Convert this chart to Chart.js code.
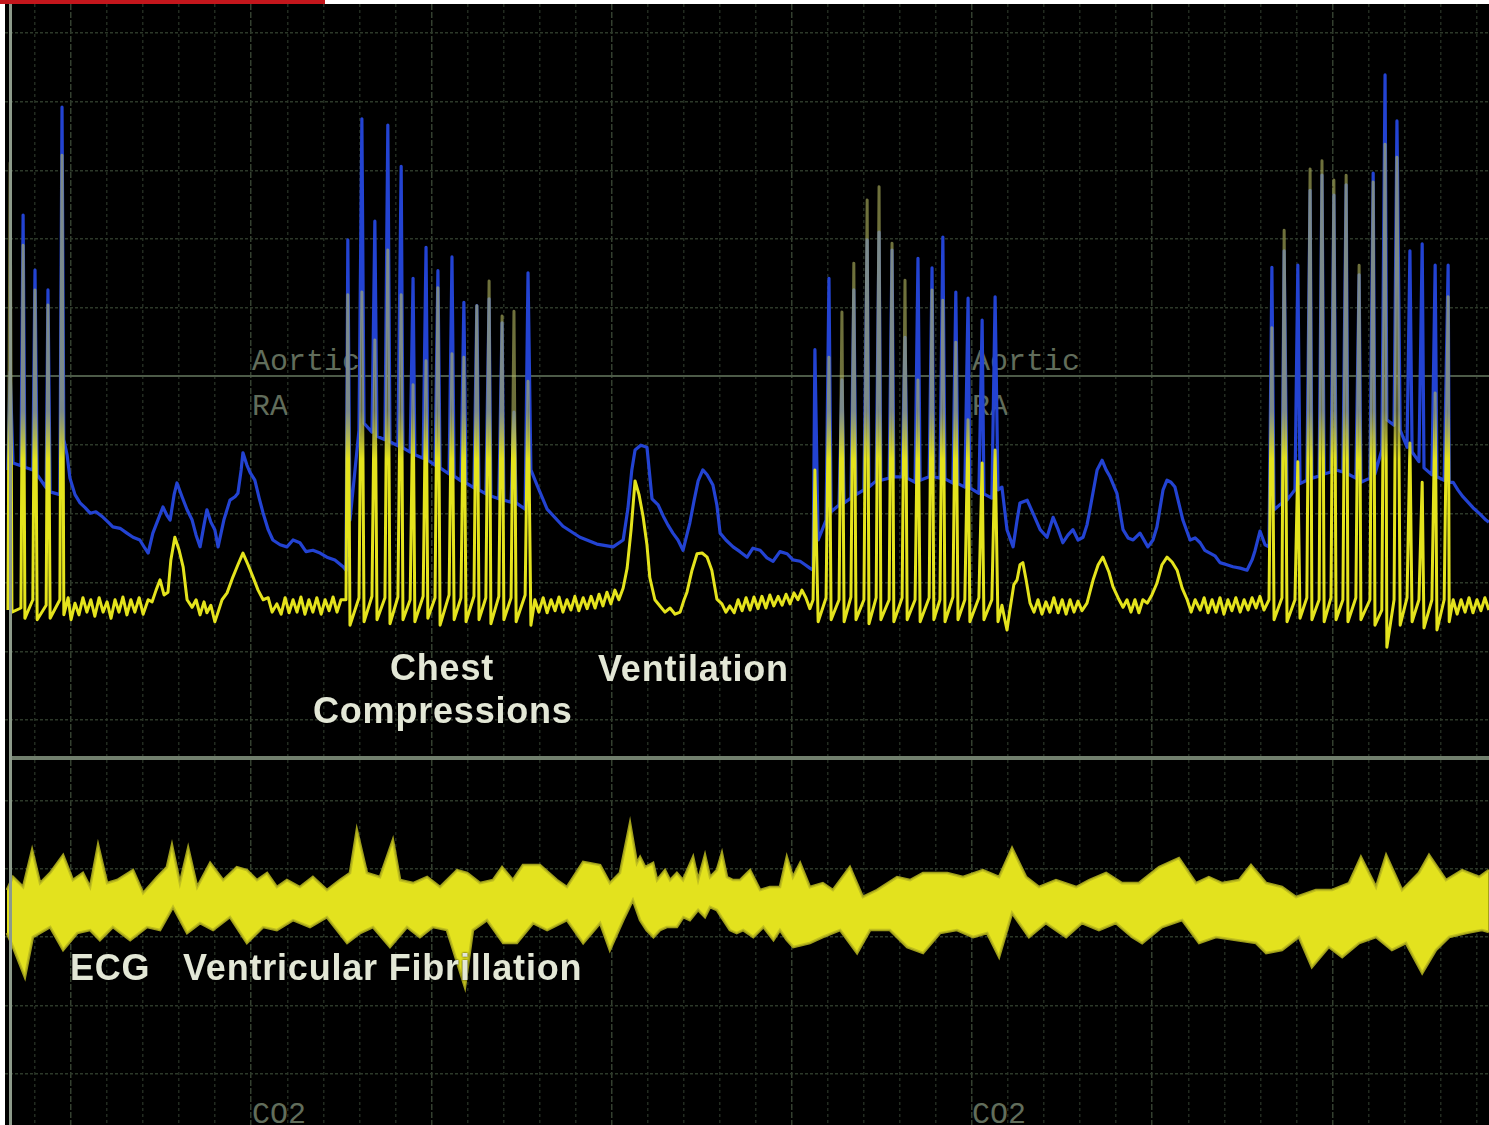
<!DOCTYPE html>
<html>
<head>
<meta charset="utf-8">
<title>CPR recording: aortic and RA pressure, ECG</title>
<script src="https://cdn.jsdelivr.net/npm/chart.js"></script>
<style>
  body { margin: 0; background: #fff; }
  #stage { position: relative; width: 1489px; height: 1125px; background: #000; overflow: hidden; }
  #stage canvas { position: absolute; left: 0; z-index: 2; }
  .edge { position: absolute; z-index: 3; }
  .mono { position: absolute; z-index: 1; font-family: "Liberation Mono", "DejaVu Sans Mono", monospace;
          font-size: 30px; line-height: 30px; color: #616d5b; white-space: pre; }
  .note { position: absolute; z-index: 4; font-family: "Liberation Sans", Arial, sans-serif; font-weight: bold;
          font-size: 36px; line-height: 36px; letter-spacing: 0.8px; color: #e3e7d6; white-space: pre;
          text-shadow: 0 0 2px #000; }
</style>
</head>
<body>
<div id="stage">
  <div class="edge" style="left:0;top:0;width:325px;height:4px;background:#c3161c"></div>
  <div class="edge" style="left:325px;top:0;width:1164px;height:4px;background:#fff"></div>
  <div class="edge" style="left:0;top:4px;width:5px;height:1121px;background:#fff"></div>
  <div class="edge" style="left:9px;top:4px;width:3px;height:1121px;background:#8d9b8b"></div>
  <div class="edge" style="left:12px;top:756px;width:1477px;height:4px;background:#717f6d"></div>

  <div class="mono" style="left:252px;top:347px">Aortic</div>
  <div class="mono" style="left:252px;top:392px">RA</div>
  <div class="mono" style="left:972px;top:347px">Aortic</div>
  <div class="mono" style="left:972px;top:392px">RA</div>
  <div class="mono" style="left:252px;top:1100px">CO2</div>
  <div class="mono" style="left:972px;top:1100px">CO2</div>

  <canvas id="pressureChart" width="1489" height="753" style="top:4px"></canvas>
  <canvas id="ecgChart" width="1489" height="365" style="top:760px"></canvas>

  <div class="note" style="left:390px;top:650px">Chest</div>
  <div class="note" style="left:313px;top:693px">Compressions</div>
  <div class="note" style="left:598px;top:651px">Ventilation</div>
  <div class="note" style="left:70px;top:950px">ECG</div>
  <div class="note" style="left:183px;top:950px">Ventricular Fibrillation</div>
</div>

<script>
// time in s (1 grid = 1 s), pressure in mmHg (1 grid = 10), ECG in mV (1 grid = 0.5)
const T_MIN = -0.971, T_MAX = 40.344;
const P_MIN = -5.39, P_MAX = 104.22;
const V_MIN = -1.376, V_MAX = 1.296;

// aortic pressure [t, mmHg]
const aortic = [
  [-0.75,36.4],[-0.69,50.7],[-0.61,37.4],[-0.39,37.0],[-0.33,73.5],[-0.28,36.8],[-0.06,36.4],[0,65.5],[0.06,35.7],
  [0.31,33.8],[0.36,62.6],[0.42,33.2],[0.69,32.8],[0.75,89.2],[0.80,40.8],
  [0.89,38.6],[0.97,35.2],[1.11,32.8],[1.25,31.6],[1.39,30.9],[1.53,30.1],[1.69,30.3],[1.89,29.5],[2.03,28.8],
  [2.16,28.1],[2.36,27.9],[2.55,27.2],[2.72,26.6],[2.91,26.2],[3.05,25.0],[3.14,24.3],[3.27,27.2],[3.41,29.1],
  [3.55,31.0],[3.66,29.8],[3.75,29.1],[3.86,32.8],[3.94,34.5],[4.08,32.5],[4.22,30.6],[4.36,29.1],[4.47,26.9],
  [4.58,25.2],[4.69,28.4],[4.77,30.6],[4.88,28.8],[4.99,27.7],[5.08,25.2],[5.24,29.1],[5.41,32.0],[5.55,32.5],
  [5.63,33.0],[5.72,36.4],[5.77,38.9],[5.88,37.1],[5.97,36.0],[6.10,34.9],[6.22,32.3],[6.33,30.1],[6.47,27.7],
  [6.60,26.2],[6.80,25.5],[6.99,25.2],[7.16,26.2],[7.35,25.8],[7.52,24.5],[7.71,24.7],[7.91,24.3],[8.10,23.7],
  [8.32,23.3],[8.55,22.3],[8.63,21.8],
  [8.68,69.9],[8.74,29.1],[8.99,42.2],[9.07,87.5],[9.13,43.2],[9.35,41.9],[9.43,72.6],[9.49,41.3],
  [9.71,40.8],[9.79,86.6],[9.85,40.5],[10.07,39.9],[10.16,80.6],[10.21,39.6],[10.41,39.0],[10.49,64.3],[10.54,38.6],
  [10.77,38.1],[10.85,68.8],[10.90,37.8],[11.10,37.1],[11.18,65.4],[11.24,36.7],[11.49,35.8],[11.57,67.4],[11.63,35.5],
  [11.82,34.8],[11.90,60.8],[11.96,34.5],[12.18,33.8],[12.26,60.3],[12.32,33.5],[12.51,32.9],[12.60,61.3],[12.65,32.6],
  [12.87,32.2],[12.96,57.8],[13.01,32.0],[13.21,31.7],[13.29,44.8],[13.35,31.6],[13.60,30.7],[13.68,65.1],[13.76,36.4],
  [13.93,34.2],[14.21,30.7],[14.65,28.2],[15.12,26.6],[15.59,25.6],[16.04,25.2],[16.32,26.2],[16.45,30.7],[16.56,36.4],
  [16.65,39.3],[16.81,40.0],[16.98,39.7],[17.12,32.2],[17.29,31.3],[17.43,29.7],[17.56,28.4],[17.70,27.2],[17.84,26.2],
  [17.98,24.7],[18.17,28.7],[18.29,32.0],[18.40,34.8],[18.53,36.4],[18.65,35.7],[18.81,34.2],[18.92,31.3],[19.01,27.2],
  [19.17,26.2],[19.37,25.2],[19.56,24.5],[19.76,23.7],[19.92,25.0],[20.12,24.7],[20.31,23.6],[20.48,23.1],[20.67,24.5],
  [20.87,24.2],[21.03,23.3],[21.23,23.1],[21.37,22.6],[21.50,22.1],[21.59,21.8],
  [21.64,53.9],[21.73,26.2],[21.95,29.1],[22.03,64.3],[22.09,30.3],[22.31,31.3],[22.39,49.5],[22.45,31.6],
  [22.64,32.3],[22.72,62.6],[22.78,32.8],[23.00,33.5],[23.09,69.9],[23.14,33.9],[23.34,34.8],[23.42,71.0],[23.47,34.9],
  [23.70,35.2],[23.78,68.4],[23.83,35.4],[24.06,35.4],[24.14,55.7],[24.20,35.2],[24.42,34.6],[24.50,67.2],[24.56,34.9],
  [24.81,35.4],[24.89,65.8],[24.94,35.4],[25.11,35.2],[25.19,70.3],[25.25,35.1],[25.47,34.5],[25.55,62.3],[25.61,34.4],
  [25.80,33.9],[25.89,61.4],[25.94,33.8],[26.19,33.0],[26.28,58.2],[26.33,32.9],[26.55,32.3],[26.64,61.6],[26.72,33.5],
  [26.83,33.9],[26.97,27.7],[27.14,25.2],[27.25,29.1],[27.33,31.6],[27.53,32.0],[27.69,30.1],[27.89,27.7],[28.08,26.6],
  [28.25,29.5],[28.39,27.7],[28.52,25.8],[28.66,26.9],[28.80,27.7],[28.94,26.2],[29.08,26.6],[29.19,28.4],[29.27,30.6],
  [29.47,36.4],[29.61,37.8],[29.72,36.4],[29.83,35.4],[30.02,33.0],[30.19,27.7],[30.33,26.5],[30.47,26.2],[30.66,27.2],
  [30.88,25.2],[31.02,26.2],[31.13,28.1],[31.30,33.5],[31.41,34.9],[31.52,34.6],[31.63,33.9],[31.85,29.1],[32.05,26.2],
  [32.19,26.5],[32.33,25.8],[32.46,24.7],[32.60,24.3],[32.74,23.9],[32.88,22.9],[33.07,22.6],[33.24,22.3],[33.44,22.1],
  [33.63,21.8],[33.77,23.3],[33.85,24.6],[33.99,27.5],[34.13,25.5],
  [34.24,25.2],[34.32,65.9],[34.38,30.6],[34.60,31.6],[34.66,68.3],[34.74,32.0],[34.96,33.5],[35.04,66.2],[35.10,34.4],
  [35.29,34.9],[35.38,77.1],[35.43,35.2],[35.63,35.5],[35.71,79.3],[35.77,35.8],[35.96,36.1],[36.04,76.4],[36.10,36.4],
  [36.29,36.1],[36.38,77.9],[36.43,35.8],[36.65,35.2],[36.74,64.8],[36.79,34.6],[37.04,35.2],[37.13,79.6],[37.18,35.8],
  [37.37,39.3],[37.46,93.9],[37.51,43.7],[37.71,42.9],[37.79,87.2],[37.88,42.2],[38.07,39.7],[38.15,68.3],[38.21,39.0],
  [38.40,37.6],[38.49,69.3],[38.54,36.7],[38.76,35.7],[38.85,66.2],[38.90,35.4],[39.10,34.9],[39.21,66.2],[39.24,34.6],
  [39.35,34.6],[39.48,33.5],[39.62,32.5],[39.76,31.7],[39.90,30.9],[40.09,30.0],[40.26,29.1],[40.34,28.8]
];

// right atrial pressure [t, mmHg]
const rightAtrial = [
  [-0.75,16.0],[-0.69,81.1],[-0.64,15.7],[-0.39,16.3],[-0.33,69.1],[-0.28,14.8],[-0.06,17.5],[0,62.6],[0.06,14.6],
  [0.31,16.7],[0.36,60.4],[0.42,14.8],[0.69,17.5],[0.75,82.2],[0.80,15.3],
  [0.92,17.8],[1.00,14.6],[1.11,17.0],[1.22,15.3],[1.33,17.8],[1.44,15.7],[1.55,17.5],[1.66,15.1],[1.78,17.8],
  [1.89,15.7],[2.00,17.2],[2.11,14.8],[2.22,17.5],[2.33,15.7],[2.44,17.9],[2.55,15.3],[2.66,17.5],[2.77,15.7],
  [2.89,17.8],[3.00,15.4],[3.14,17.5],[3.25,17.2],[3.36,18.9],[3.47,20.4],[3.58,18.2],[3.69,18.6],[3.77,23.3],
  [3.88,26.6],[4.00,24.7],[4.11,22.3],[4.22,17.5],[4.36,16.4],[4.47,17.5],[4.58,15.3],[4.69,17.2],[4.77,15.6],
  [4.88,16.7],[4.99,14.3],[5.08,15.7],[5.19,17.5],[5.33,18.5],[5.49,20.8],[5.63,22.6],[5.77,24.3],[5.91,22.6],
  [6.05,20.8],[6.19,18.9],[6.33,17.5],[6.47,17.8],[6.58,15.7],[6.71,16.9],[6.83,15.4],[6.94,17.8],[7.05,15.6],
  [7.16,17.5],[7.27,15.7],[7.38,17.9],[7.49,15.4],[7.60,17.5],[7.71,15.7],[7.82,17.8],[7.94,15.4],[8.05,17.5],
  [8.16,15.9],[8.27,17.9],[8.38,15.7],[8.49,17.5],[8.63,17.5],
  [8.68,61.9],[8.74,13.8],[8.99,17.8],[9.07,62.3],[9.13,14.3],[9.35,18.0],[9.43,55.3],[9.49,14.6],
  [9.71,17.8],[9.79,68.4],[9.85,14.0],[10.07,17.9],[10.16,61.9],[10.21,14.6],[10.41,17.5],[10.49,48.8],[10.54,14.3],
  [10.77,18.0],[10.85,52.3],[10.90,14.8],[11.10,17.8],[11.18,62.9],[11.24,13.8],[11.49,18.2],[11.57,53.3],[11.63,14.6],
  [11.82,17.8],[11.90,52.8],[11.96,14.3],[12.18,18.0],[12.26,60.3],[12.32,14.6],[12.51,17.8],[12.60,63.9],[12.65,14.0],
  [12.87,18.0],[12.96,58.8],[13.01,14.6],[13.21,17.8],[13.29,59.5],[13.35,14.3],[13.60,18.2],[13.68,49.3],[13.76,13.8],
  [13.87,17.5],[13.98,15.7],[14.10,17.8],[14.21,15.6],[14.32,17.5],[14.43,15.9],[14.54,17.9],[14.65,15.7],[14.76,17.5],
  [14.87,16.0],[14.98,18.0],[15.09,15.9],[15.21,17.8],[15.32,16.2],[15.43,18.0],[15.54,16.3],[15.65,18.3],[15.76,16.6],
  [15.87,18.6],[15.98,16.9],[16.09,18.9],[16.20,17.5],[16.32,19.2],[16.43,22.1],[16.54,27.7],[16.65,34.8],[16.76,32.8],
  [16.87,29.7],[16.98,25.5],[17.06,20.7],[17.20,17.5],[17.34,16.6],[17.48,15.7],[17.62,16.3],[17.76,15.4],[17.90,15.7],
  [18.01,17.5],[18.09,18.6],[18.23,21.8],[18.37,24.2],[18.51,24.3],[18.65,23.7],[18.78,21.8],[18.92,17.6],[19.06,16.9],
  [19.17,15.7],[19.28,16.6],[19.40,15.6],[19.51,17.5],[19.62,15.9],[19.73,17.8],[19.84,16.0],[19.95,17.9],[20.06,16.2],
  [20.17,18.0],[20.28,16.3],[20.39,18.2],[20.50,16.6],[20.62,18.0],[20.73,16.7],[20.84,18.3],[20.95,16.9],[21.06,18.5],
  [21.17,17.5],[21.28,18.9],[21.39,17.8],[21.50,16.2],
  [21.59,17.5],[21.64,36.4],[21.73,14.3],[21.95,17.8],[22.03,52.8],[22.09,14.6],[22.31,17.5],[22.39,59.4],[22.45,14.3],
  [22.64,17.9],[22.72,66.5],[22.78,14.6],[23.00,17.5],[23.09,75.7],[23.14,14.0],[23.34,17.8],[23.42,77.6],[23.47,14.6],
  [23.70,17.5],[23.78,69.4],[23.83,14.3],[24.06,17.8],[24.14,64.0],[24.20,14.6],[24.42,17.5],[24.50,49.5],[24.56,14.3],
  [24.81,17.8],[24.89,62.6],[24.94,14.6],[25.11,17.5],[25.19,61.1],[25.25,14.3],[25.47,17.9],[25.55,55.0],[25.61,14.6],
  [25.80,17.5],[25.89,43.7],[25.94,14.3],[26.19,17.8],[26.28,37.4],[26.33,14.6],[26.55,17.5],[26.64,39.3],[26.72,14.3],
  [26.83,16.7],[26.91,14.6],[26.97,13.1],[27.05,16.0],[27.16,19.7],[27.25,20.4],[27.33,22.6],[27.41,22.9],[27.50,20.4],
  [27.61,17.0],[27.72,15.7],[27.83,17.5],[27.94,15.4],[28.05,17.2],[28.16,15.7],[28.27,17.8],[28.39,15.6],[28.50,17.5],
  [28.61,15.4],[28.72,17.5],[28.83,15.7],[28.94,17.3],[29.05,15.9],[29.19,17.0],[29.27,18.6],[29.36,20.4],[29.50,22.6],
  [29.63,23.7],[29.80,21.5],[29.91,19.4],[30.05,17.8],[30.19,16.4],[30.30,17.5],[30.41,15.7],[30.52,17.5],[30.63,15.6],
  [30.74,17.5],[30.86,17.0],[30.99,18.2],[31.13,19.9],[31.27,22.6],[31.41,23.7],[31.55,23.0],[31.69,21.8],[31.83,19.2],
  [31.97,17.5],[32.08,15.7],[32.19,17.5],[32.33,16.0],[32.44,17.8],[32.55,15.6],[32.66,17.5],[32.77,15.7],[32.88,17.8],
  [32.99,15.4],[33.10,17.5],[33.21,15.9],[33.32,17.8],[33.44,15.7],[33.55,17.5],[33.66,16.0],[33.77,17.8],[33.88,16.3],
  [33.99,18.0],[34.10,16.0],
  [34.24,17.5],[34.32,57.1],[34.38,14.6],[34.60,17.8],[34.66,71.3],[34.74,14.3],[34.96,17.5],[35.04,37.6],[35.10,14.8],
  [35.29,17.8],[35.38,80.2],[35.43,14.6],[35.63,17.5],[35.71,81.4],[35.77,14.3],[35.96,17.8],[36.04,78.6],[36.10,14.6],
  [36.29,17.5],[36.38,79.3],[36.43,14.3],[36.65,17.8],[36.74,66.2],[36.79,14.6],[37.04,17.5],[37.13,78.3],[37.18,13.8],
  [37.37,16.0],[37.46,83.8],[37.51,10.6],[37.71,17.5],[37.79,81.9],[37.88,13.8],[38.07,17.8],[38.15,40.3],[38.21,14.3],
  [38.40,17.5],[38.49,34.6],[38.54,13.4],[38.76,17.5],[38.85,47.6],[38.90,13.1],[39.10,17.5],[39.21,61.6],[39.24,14.3],
  [39.35,17.5],[39.46,15.4],[39.57,17.5],[39.68,15.7],[39.79,17.8],[39.90,15.6],[40.01,17.5],[40.12,15.9],[40.23,17.8],
  [40.34,16.0]
];

// ECG band in ventricular fibrillation, upper and lower edge [t, mV]
const ecgUpper = [
  [-0.78,0.344],[-0.61,0.439],[-0.33,0.366],[-0.08,0.637],[0.14,0.395],[0.42,0.469],[0.78,0.600],[1.05,0.417],
  [1.33,0.469],[1.53,0.366],[1.75,0.673],[2.00,0.395],[2.28,0.417],[2.72,0.490],[3.00,0.322],[3.39,0.439],
  [3.66,0.512],[3.80,0.673],[4.02,0.395],[4.25,0.652],[4.50,0.366],[4.86,0.542],[5.22,0.417],[5.60,0.512],
  [5.88,0.490],[6.16,0.417],[6.44,0.469],[6.71,0.366],[6.99,0.417],[7.35,0.366],[7.71,0.439],[8.10,0.344],
  [8.46,0.417],[8.74,0.469],[8.93,0.783],[9.21,0.469],[9.57,0.439],[9.93,0.710],[10.13,0.417],[10.49,0.395],
  [10.88,0.439],[11.24,0.366],[11.71,0.490],[11.99,0.469],[12.35,0.395],[12.71,0.417],[12.96,0.512],[13.26,0.417],
  [13.54,0.527],[14.01,0.527],[14.48,0.417],[14.76,0.366],[15.21,0.549],[15.68,0.527],[15.95,0.395],[16.23,0.469],
  [16.51,0.835],[16.70,0.542],[16.79,0.586],[16.93,0.512],[17.15,0.542],[17.26,0.417],[17.48,0.490],[17.62,0.417],
  [17.81,0.469],[17.98,0.417],[18.26,0.586],[18.40,0.417],[18.59,0.600],[18.73,0.439],[18.92,0.490],[19.06,0.615],
  [19.20,0.439],[19.37,0.417],[19.56,0.417],[19.84,0.490],[20.12,0.344],[20.39,0.366],[20.67,0.366],[20.86,0.586],
  [21.03,0.439],[21.23,0.542],[21.50,0.366],[21.86,0.395],
  [22.14,0.344],[22.61,0.512],[22.97,0.293],[23.36,0.344],[23.92,0.439],[24.28,0.417],[24.64,0.469],[25.31,0.469],
  [25.75,0.439],[26.30,0.490],[26.75,0.439],[27.11,0.652],[27.50,0.439],[27.86,0.366],[28.33,0.417],[28.89,0.366],
  [29.25,0.417],[29.72,0.469],[30.16,0.395],[30.63,0.395],[31.19,0.512],[31.74,0.578],[32.21,0.395],[32.57,0.439],
  [32.94,0.395],[33.41,0.417],[33.74,0.527],[34.16,0.395],[34.60,0.366],[34.99,0.293],[35.54,0.344],[35.99,0.344],
  [36.46,0.395],[36.79,0.586],[37.21,0.366],[37.49,0.600],[37.93,0.344],[38.40,0.469],[38.68,0.600],[39.15,0.417],
  [39.60,0.490],[40.07,0.439],[40.34,0.490]
];
const ecgLower = [
  [-0.78,0.029],[-0.61,-0.073],[-0.28,-0.293],[-0.06,0],[0.42,0.073],[0.78,-0.095],[1.17,0.029],[1.53,0.051],
  [1.80,-0.022],[2.16,0.073],[2.64,-0.022],[3.11,0.073],[3.47,0.051],[3.83,0.220],[4.22,0.029],[4.58,0.102],
  [4.94,0.051],[5.41,0.146],[5.88,-0.044],[6.33,0.073],[6.71,0.051],[7.16,0.124],[7.63,0.073],[8.10,0.146],
  [8.66,-0.044],[9.02,0.029],[9.38,0.073],[9.85,-0.073],[10.32,0.073],[10.68,0],[11.04,0.073],[11.43,0.051],
  [11.93,-0.366],[12.15,0.051],[12.54,0.124],[12.99,-0.044],[13.37,-0.044],[13.82,0.102],[14.21,0.051],[14.76,0.124],
  [15.21,-0.044],[15.68,0.102],[15.95,-0.095],[16.32,0.124],[16.59,0.271],
  [16.79,0.124],[16.97,0.051],[17.16,0],[17.34,0.051],[17.53,0.073],[17.81,0.073],[17.99,0.146],[18.17,0.124],
  [18.40,0.198],[18.59,0.146],[18.73,0.220],[18.92,0.198],[19.10,0.124],[19.28,0.051],[19.47,0.029],[19.65,0.051],
  [19.93,0],[20.21,0.073],[20.49,-0.022],[20.67,0.051],[20.86,-0.022],[21.04,-0.073],[21.50,-0.044],
  [21.86,0],[22.34,0.051],[22.81,-0.117],[23.17,0.051],[23.72,0.051],[24.20,-0.073],[24.64,-0.117],[25.11,0.029],
  [25.58,0.051],[26.03,0],[26.42,0.029],[26.75,-0.146],[27.11,0.176],[27.58,0],[28.05,0.102],[28.61,0],
  [29.05,0.102],[29.52,0.051],[29.99,0.102],[30.44,0],[30.72,-0.044],[31.27,0.073],[31.83,0.124],[32.30,-0.044],
  [32.77,0],[33.32,-0.022],[33.88,-0.044],[34.16,-0.117],[34.60,-0.095],[35.07,0],[35.43,-0.220],[35.90,-0.073],
  [36.27,-0.146],[36.74,-0.044],[37.21,0],[37.65,-0.095],[38.04,-0.044],[38.49,-0.264],[38.87,-0.095],[39.24,0],
  [39.71,0.029],[40.15,0.051],[40.34,0.037]
];

const toXY = pts => pts.map(([x, y]) => ({ x, y }));

// dotted monitor grid, every fifth vertical line a bit stronger
function timeAxis() {
  return {
    type: 'linear', min: T_MIN, max: T_MAX,
    afterBuildTicks: s => {
      s.ticks = [];
      for (let v = Math.ceil(s.min); v <= s.max; v++) s.ticks.push({ value: v });
    },
    afterFit: s => { s.height = 0; },
    ticks: { display: false },
    grid: {
      drawTicks: false,
      lineWidth: 1.5,
      color: c => (c.tick && (c.tick.value - 1) % 5 === 0) ? '#333f2f' : '#222b20'
    },
    border: { display: false, dash: c => (c.tick && (c.tick.value - 1) % 5 === 0) ? [6, 2] : [3, 3] }
  };
}

function valueAxis(min, max, step, solidAt) {
  return {
    type: 'linear', min: min, max: max,
    afterBuildTicks: s => {
      s.ticks = [];
      for (let v = Math.ceil(s.min / step) * step; v <= s.max; v += step) s.ticks.push({ value: +v.toFixed(3) });
    },
    afterFit: s => { s.width = 0; },
    ticks: { display: false },
    grid: {
      drawTicks: false,
      lineWidth: c => (c.tick && c.tick.value === solidAt) ? 2 : 1.5,
      color: c => (c.tick && c.tick.value === solidAt) ? '#4d5b48' : '#2c3829'
    },
    border: { display: false, dash: c => (c.tick && c.tick.value === solidAt) ? [] : [3, 2] }
  };
}

// RA trace: bright near baseline, faded olive on the tall compression spikes
function raColour(context) {
  const chart = context.chart;
  if (!chart.chartArea) return '#e4e31d';
  const y = chart.scales.y;
  const g = chart.ctx.createLinearGradient(0, y.getPixelForValue(45), 0, y.getPixelForValue(38));
  g.addColorStop(0, 'rgba(178,182,96,0.62)');
  g.addColorStop(1, '#e4e31d');
  return g;
}

const common = {
  responsive: false,
  maintainAspectRatio: false,
  animation: false,
  devicePixelRatio: 1,
  events: [],
  layout: { padding: 0 },
  plugins: { legend: { display: false }, tooltip: { enabled: false }, title: { display: false } }
};

document.addEventListener('DOMContentLoaded', function () {
  new Chart(document.getElementById('pressureChart').getContext('2d'), {
    type: 'line',
    data: {
      datasets: [
        { label: 'RA', data: toXY(rightAtrial), borderColor: raColour, borderWidth: 3,
          pointRadius: 0, tension: 0, order: 1, borderJoinStyle: 'round' },
        { label: 'Aortic', data: toXY(aortic), borderColor: '#2343d2', borderWidth: 3.2,
          pointRadius: 0, tension: 0, order: 2, borderJoinStyle: 'round' }
      ]
    },
    options: Object.assign({}, common, {
      scales: { x: timeAxis(), y: valueAxis(P_MIN, P_MAX, 10, 50) }
    })
  });

  new Chart(document.getElementById('ecgChart').getContext('2d'), {
    type: 'line',
    data: {
      datasets: [
        { label: 'ECG', data: toXY(ecgUpper), borderColor: 'rgba(186,184,30,0.85)', borderWidth: 2.6,
          pointRadius: 0, tension: 0, fill: false },
        { label: 'ECG lower', data: toXY(ecgLower), borderColor: 'rgba(186,184,30,0.85)', borderWidth: 2.6,
          pointRadius: 0, tension: 0, fill: '-1', backgroundColor: '#e3e21e' }
      ]
    },
    options: Object.assign({}, common, {
      scales: { x: timeAxis(), y: valueAxis(V_MIN, V_MAX, 0.5, null) }
    })
  });
});
</script>
</body>
</html>
